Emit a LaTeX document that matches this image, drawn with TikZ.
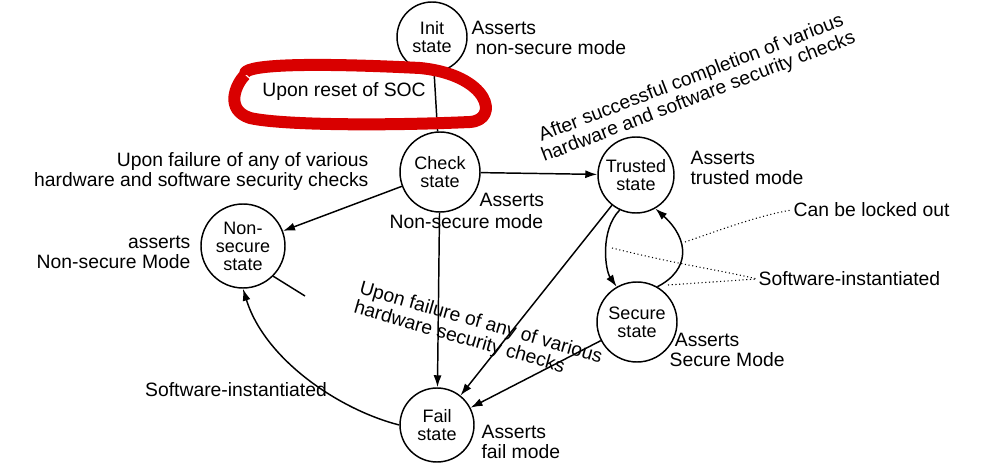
\documentclass[tikz,border=0pt]{standalone}
\usepackage{fontspec}
\setmainfont{Liberation Sans}
\usetikzlibrary{arrows.meta}
\begin{document}
\begin{tikzpicture}[x=0.75pt,y=-0.75pt,
  st/.style={circle,draw,line width=1.1pt,minimum size=#1*1.5pt,inner sep=0pt,align=center,font=\fontsize{13.5}{13.5}\selectfont},
  lbl/.style={align=left,font=\fontsize{14.5}{15}\selectfont,inner sep=1pt},
  arr/.style={line width=1.1pt,-{Latex[length=9pt,width=6pt]}},
  dot/.style={thick,dotted}]
\useasboundingbox (0,0) rectangle (999,466);
\node[st=35] (init) at (432,37) {Init\\state};
\node[st=40] (check) at (440,172) {Check\\state};
\node[st=38] (trust) at (636,175) {Trusted\\state};
\node[st=42] (nons) at (243,246) {Non-\\secure\\state};
\node[st=40] (sec) at (637,322) {Secure\\state};
\node[st=37] (fail) at (437,425) {Fail\\state};
% labels
\node[lbl,anchor=west] (a1) at (470,38) {Asserts\\ \hspace*{3pt}non-secure mode};
\node[lbl,anchor=west] (a2) at (478,200) {Asserts};
\node[lbl,anchor=west] (a2b) at (388,222) {Non-secure mode};
\node[lbl,anchor=west] (a3) at (689,168) {Asserts\\trusted mode};
\node[lbl,align=right,anchor=east] (a4) at (192,252) {asserts\\Non-secure Mode};
\node[lbl,anchor=west] (a5) at (668,350) {\hspace*{4pt}Asserts\\Secure Mode};
\node[lbl,anchor=west] (a6) at (480,442) {Asserts\\fail mode};
\node[lbl,align=right,anchor=east] (l1) at (370,172) {Upon failure of any of various\\hardware and software security checks};
\node[lbl,align=center,rotate=21] (l2) at (695,88) {After successful completion of various\\hardware and software security checks};
\node[lbl,align=left,rotate=-16] (l3) at (478,333) {Upon failure of any of various\\hardware security checks};
\node[lbl] (l4) at (236,390) {Software-instantiated};
\node[lbl,anchor=west] (l5) at (792,210) {Can be locked out};
\node[lbl,anchor=west] (l6) at (757,279) {Software-instantiated};
\node[lbl] (soc) at (344,92) {Upon reset of SOC};
% edges
\draw[line width=1.1pt] (init) -- (check);
\draw[arr] (check) -- (trust);
\draw[arr] (check) -- (nons);
\draw[arr] (check) -- (fail);
\draw[arr] (trust) -- (fail);
\draw[arr] (sec) -- (fail);
\draw[arr] (fail.west) .. controls (340,410) and (265,360) .. (nons.south);
\draw[line width=1.1pt] (nons.-45) -- (305,296);
\draw[arr] (trust.-115) .. controls (600,230) and (605,270) .. (sec.120);
\draw[arr] (sec.60) .. controls (690,270) and (690,240) .. (trust.-60);
\coordinate (d1) at (685,242);
\coordinate (d2) at (612,248);
\coordinate (d3) at (668,285);
\draw[dot] (d1) .. controls (720,230) and (760,215) .. (l5.west);
\draw[dot] (d2) .. controls (680,265) and (720,270) .. (l6.west);
\draw[dot] (d3) -- (l6.west);
% red mark
\draw[red!85!black,line width=9pt,line join=round] (245,75) .. controls (240,65) and (300,62) .. (420,68)
  .. controls (490,75) and (500,120) .. (470,122) .. controls (380,126) and (280,125) .. (250,118)
  .. controls (225,110) and (235,85) .. (245,75);
\end{tikzpicture}
\end{document}
